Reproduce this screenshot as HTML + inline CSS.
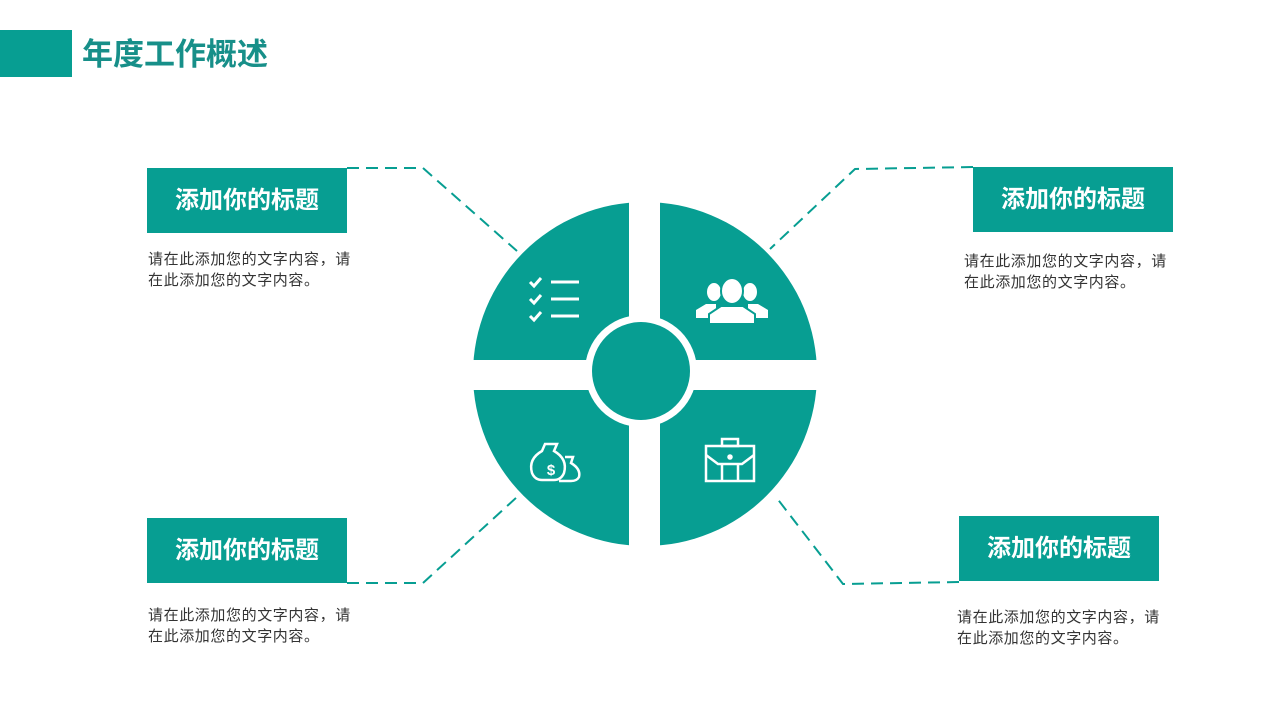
<!DOCTYPE html>
<html><head><meta charset="utf-8"><style>
html,body{margin:0;padding:0;background:#fff;}
body{width:1280px;height:720px;position:relative;overflow:hidden;font-family:"Liberation Sans","Noto Sans CJK SC",sans-serif;}
.bar{position:absolute;left:0;top:30px;width:72px;height:47px;background:#079e92;}
.title{position:absolute;left:82px;top:35px;font-size:31px;font-weight:bold;color:#178f89;line-height:40px;}
.box{position:absolute;width:200px;height:65px;background:#079e92;color:#fff;font-size:24px;font-weight:bold;line-height:65px;text-align:center;}
.txt{position:absolute;font-size:15px;letter-spacing:0.6px;color:#333;line-height:21px;width:240px;}
svg{position:absolute;left:0;top:0;}
</style></head><body>
<div class="bar"></div>
<div class="title">年度工作概述</div>
<svg width="1280" height="720">
<g fill="none" stroke="#079e92" stroke-width="2" stroke-dasharray="12,7">
<polyline points="347,168 423,168 517,251"/>
<polyline points="973,167 855,169 770,249"/>
<polyline points="347,583 423,583 517,497"/>
<polyline points="959,582 843,584 776,497"/>
</g>
<circle cx="645" cy="374" r="172" fill="#079e92"/>
<rect x="629" y="190" width="31" height="370" fill="#fff"/>
<rect x="460" y="360" width="370" height="30" fill="#fff"/>
<circle cx="641" cy="371" r="56" fill="#fff"/>
<circle cx="641" cy="371" r="49" fill="#079e92"/>
<g stroke="#fff" stroke-width="3" fill="none">
<line x1="551" y1="282" x2="579" y2="282"/><line x1="551" y1="299" x2="579" y2="299"/><line x1="551" y1="316" x2="579" y2="316"/>
<polyline points="530,282 534,286 541,278"/><polyline points="530,299 534,303 541,295"/><polyline points="530,316 534,320 541,312"/>
</g>
<g fill="#fff">
<ellipse cx="714" cy="292" rx="7" ry="9"/><ellipse cx="750" cy="292" rx="7" ry="9"/>
<path d="M696 318 v-8 l10 -6 h10 v14z"/><path d="M768 318 v-8 l-10 -6 h-10 v14z"/>
<ellipse cx="732" cy="291" rx="11" ry="13" stroke="#079e92" stroke-width="2"/>
<path d="M709 324 v-10 l12 -8 h22 l12 8 v10z" stroke="#079e92" stroke-width="2"/>
</g>
<g stroke="#fff" stroke-width="2.5" fill="none">
<path d="M545 444 h12 l-3 7 q14 8 10 22 q-3 7 -10 7 h-12 q-7 0 -10 -7 q-4 -14 10 -22z"/>
<path d="M565 457 l8 0 l-2 6 q10 6 8 14 q-2 4 -8 4 h-12"/>
<text x="551" y="475" fill="#fff" stroke="none" font-size="15" font-weight="bold" text-anchor="middle" font-family="Liberation Sans">$</text>
</g>
<g stroke="#fff" stroke-width="2.5" fill="none">
<rect x="722" y="439" width="16" height="7"/>
<rect x="706" y="446" width="48" height="35"/>
<path d="M706 455 l12 9 h24 l12 -9"/>
<line x1="722" y1="464" x2="722" y2="481"/><line x1="738" y1="464" x2="738" y2="481"/>
<circle cx="730" cy="457" r="1.5" fill="#fff"/>
</g>
</svg>
<div class="box" style="left:147px;top:168px;">添加你的标题</div>
<div class="box" style="left:973px;top:167px;">添加你的标题</div>
<div class="box" style="left:147px;top:518px;">添加你的标题</div>
<div class="box" style="left:959px;top:516px;">添加你的标题</div>
<div class="txt" style="left:148px;top:249px;">请在此添加您的文字内容，请<br>在此添加您的文字内容。</div>
<div class="txt" style="left:964px;top:251px;">请在此添加您的文字内容，请<br>在此添加您的文字内容。</div>
<div class="txt" style="left:148px;top:605px;">请在此添加您的文字内容，请<br>在此添加您的文字内容。</div>
<div class="txt" style="left:957px;top:607px;">请在此添加您的文字内容，请<br>在此添加您的文字内容。</div>
</body></html>
